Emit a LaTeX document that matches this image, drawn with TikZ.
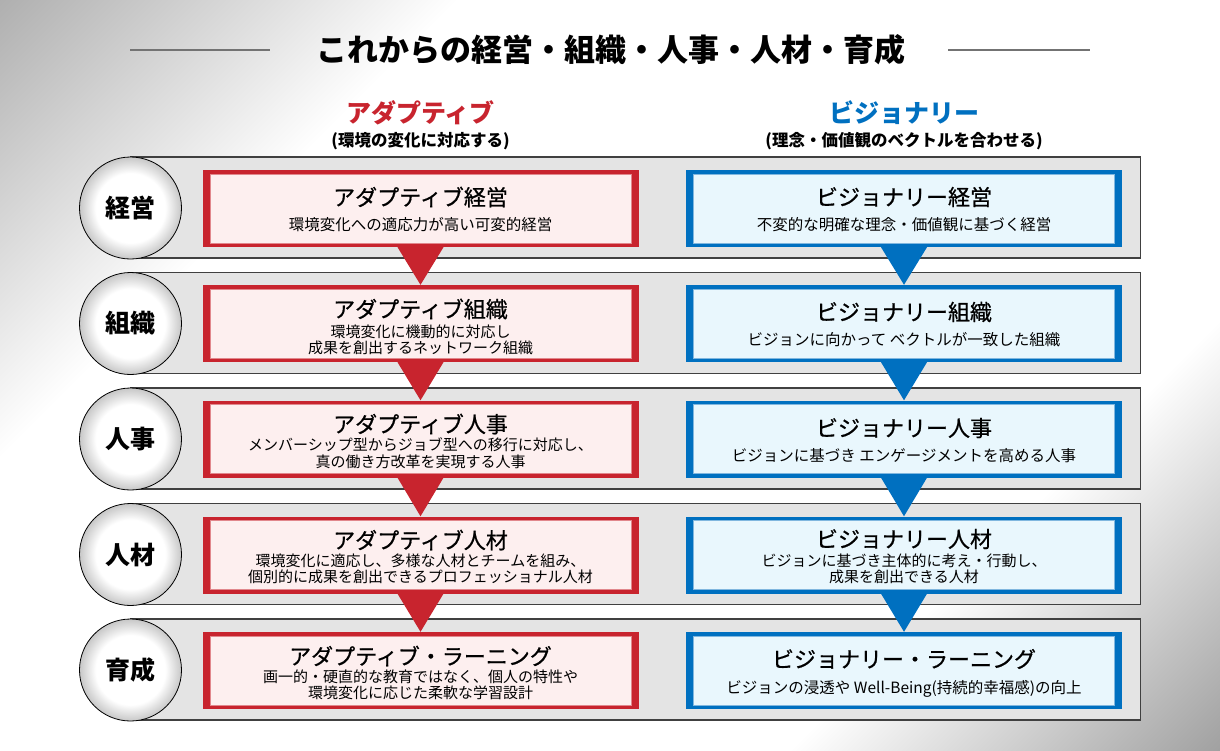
\documentclass[tikz,border=0pt]{standalone}
\usepackage{fontspec}
\setmainfont{Noto Sans CJK JP}
\newfontfamily\headfont[FakeBold=0.7]{Noto Sans CJK JP}
\usetikzlibrary{positioning}
\definecolor{adaptred}{HTML}{C8242E}
\definecolor{adaptpink}{HTML}{FDEFEF}
\definecolor{visionblue}{HTML}{0070C0}
\definecolor{visionsky}{HTML}{E9F7FD}
\definecolor{bandgray}{HTML}{E4E4E4}
\pgfdeclarehorizontalshading{pagebg}{100bp}{color(0bp)=(black!32); color(14bp)=(black!32); color(31bp)=(white); color(70bp)=(white); color(86bp)=(black!38); color(100bp)=(black!38)}
\pgfdeclareradialshading{ballshade}{\pgfpoint{0bp}{0bp}}{color(0bp)=(white); color(17bp)=(white); color(25bp)=(black!22); color(50bp)=(black!22)}

\begin{document}
\begin{tikzpicture}[
		x=1pt,y=-1pt,
		every node/.style={inner sep=0pt},
		titlerule/.style={draw=black!55,line width=2pt},
		band/.style={draw=black!75,line width=1.2pt,fill=bandgray,minimum width=1010pt,minimum height=101pt,anchor=west},
		ball/.style={circle,draw=black,line width=0.8pt,shade,shading=ballshade,minimum size=102pt,font=\fontsize{25}{28}\selectfont\bfseries},
		adaptbox/.style={fill=adaptred,minimum width=436pt,minimum height=77pt},
		adaptin/.style={fill=adaptpink,draw=adaptred!55,line width=0.8pt,minimum width=421pt,minimum height=69pt},
		visionbox/.style={fill=visionblue,minimum width=436pt,minimum height=77pt},
		visionin/.style={fill=visionsky,draw=visionblue!50,line width=0.8pt,minimum width=421pt,minimum height=69pt},
		boxhead/.style={font=\fontsize{22}{24}\selectfont\headfont},
		boxsub/.style={align=center,font=\fontsize{15.5}{16.5}\selectfont},
		boxsubs/.style={align=center,font=\fontsize{15}{16.5}\selectfont}
		]
		\useasboundingbox (0,0) rectangle (1220,750);
		\shade[shading=pagebg,shading angle=-45] (0,0) rectangle (1220,750);
		
		\node[font=\fontsize{31}{34}\selectfont\bfseries] (title) at (611,50) {これからの経営・組織・人事・人材・育成};
		\draw[titlerule] (130,50) -- (270,50);
		\draw[titlerule] (948,50) -- (1090,50);
		
		\node[font=\fontsize{25}{28}\selectfont\bfseries,text=adaptred] (adapthead) at (420.5,113) {アダプティブ};
		\node[font=\fontsize{16.5}{18}\selectfont\bfseries] (adaptnote) at (420.5,141) {(環境の変化に対応する)};
		\node[font=\fontsize{25}{28}\selectfont\bfseries,text=visionblue] (visionhead) at (904,113) {ビジョナリー};
		\node[font=\fontsize{16.5}{18}\selectfont\bfseries] (visionnote) at (904,141) {(理念・価値観のベクトルを合わせる)};
		
		\node[band] (band1) at (130,207.5) {};
		\node[band] (band2) at (130,323) {};
		\node[band] (band3) at (130,438.5) {};
		\node[band] (band4) at (130,554) {};
		\node[band] (band5) at (130,669.5) {};
		
		\node[ball] (area1) at (130.5,208) {経営};
		\node[ball] (area2) at (130.5,323.5) {組織};
		\node[ball] (area3) at (130.5,439) {人事};
		\node[ball] (area4) at (130.5,554.5) {人材};
		\node[ball] (area5) at (130.5,670) {育成};
		
		\node[adaptbox] (adapt1) at (420.5,208.5) {};
		\node[adaptbox] (adapt2) at (420.5,323.5) {};
		\node[adaptbox] (adapt3) at (420.5,439) {};
		\node[adaptbox] (adapt4) at (420.5,555) {};
		\node[adaptbox] (adapt5) at (420.5,670.5) {};
		\node[adaptin] at (adapt1) {};
		\node[adaptin] at (adapt2) {};
		\node[adaptin] at (adapt3) {};
		\node[adaptin] at (adapt4) {};
		\node[adaptin] at (adapt5) {};
		
		\node[visionbox] (vision1) at (904,208.5) {};
		\node[visionbox] (vision2) at (904,323.5) {};
		\node[visionbox] (vision3) at (904,439) {};
		\node[visionbox] (vision4) at (904,555) {};
		\node[visionbox] (vision5) at (904,670.5) {};
		\node[visionin] at (vision1) {};
		\node[visionin] at (vision2) {};
		\node[visionin] at (vision3) {};
		\node[visionin] at (vision4) {};
		\node[visionin] at (vision5) {};
		
		\fill[adaptred] ([xshift=-23pt]adapt1.south) -- ([xshift=23pt]adapt1.south) -- (adapt2.north) -- cycle;
		\fill[adaptred] ([xshift=-23pt]adapt2.south) -- ([xshift=23pt]adapt2.south) -- (adapt3.north) -- cycle;
		\fill[adaptred] ([xshift=-23pt]adapt3.south) -- ([xshift=23pt]adapt3.south) -- (adapt4.north) -- cycle;
		\fill[adaptred] ([xshift=-23pt]adapt4.south) -- ([xshift=23pt]adapt4.south) -- (adapt5.north) -- cycle;
		\fill[visionblue] ([xshift=-23pt]vision1.south) -- ([xshift=23pt]vision1.south) -- (vision2.north) -- cycle;
		\fill[visionblue] ([xshift=-23pt]vision2.south) -- ([xshift=23pt]vision2.south) -- (vision3.north) -- cycle;
		\fill[visionblue] ([xshift=-23pt]vision3.south) -- ([xshift=23pt]vision3.south) -- (vision4.north) -- cycle;
		\fill[visionblue] ([xshift=-23pt]vision4.south) -- ([xshift=23pt]vision4.south) -- (vision5.north) -- cycle;
		
		\node[boxhead] at (420.5,197) {アダプティブ経営};
		\node[boxsub] at (420.5,225) {環境変化への適応力が高い可変的経営};
		\node[boxhead] at (420.5,309) {アダプティブ組織};
		\node[boxsubs] at (420.5,340) {環境変化に機動的に対応し\\成果を創出するネットワーク組織};
		\node[boxhead] at (420.5,424) {アダプティブ人事};
		\node[boxsubs] at (420.5,453) {メンバーシップ型からジョブ型への移行に対応し、\\真の働き方改革を実現する人事};
		\node[boxhead] at (420.5,540) {アダプティブ人材};
		\node[boxsubs] at (420.5,569) {環境変化に適応し、多様な人材とチームを組み、\\個別的に成果を創出できるプロフェッショナル人材};
		\node[boxhead] at (420.5,656) {アダプティブ・ラーニング};
		\node[boxsubs] at (420.5,685) {画一的・硬直的な教育ではなく、個人の特性や\\環境変化に応じた柔軟な学習設計};
		
		\node[boxhead] at (904,197) {ビジョナリー経営};
		\node[boxsub] at (904,225) {不変的な明確な理念・価値観に基づく経営};
		\node[boxhead] at (904,312) {ビジョナリー組織};
		\node[boxsub] at (904,340) {ビジョンに向かって ベクトルが一致した組織};
		\node[boxhead] at (904,428) {ビジョナリー人事};
		\node[boxsub] at (904,456) {ビジョンに基づき エンゲージメントを高める人事};
		\node[boxhead] at (904,539) {ビジョナリー人材};
		\node[boxsubs] at (904,569) {ビジョンに基づき主体的に考え・行動し、\\成果を創出できる人材};
		\node[boxhead] at (904,659) {ビジョナリー・ラーニング};
		\node[boxsub] at (904,689) {ビジョンの浸透や Well-Being(持続的幸福感)の向上};
\end{tikzpicture}
\end{document}
